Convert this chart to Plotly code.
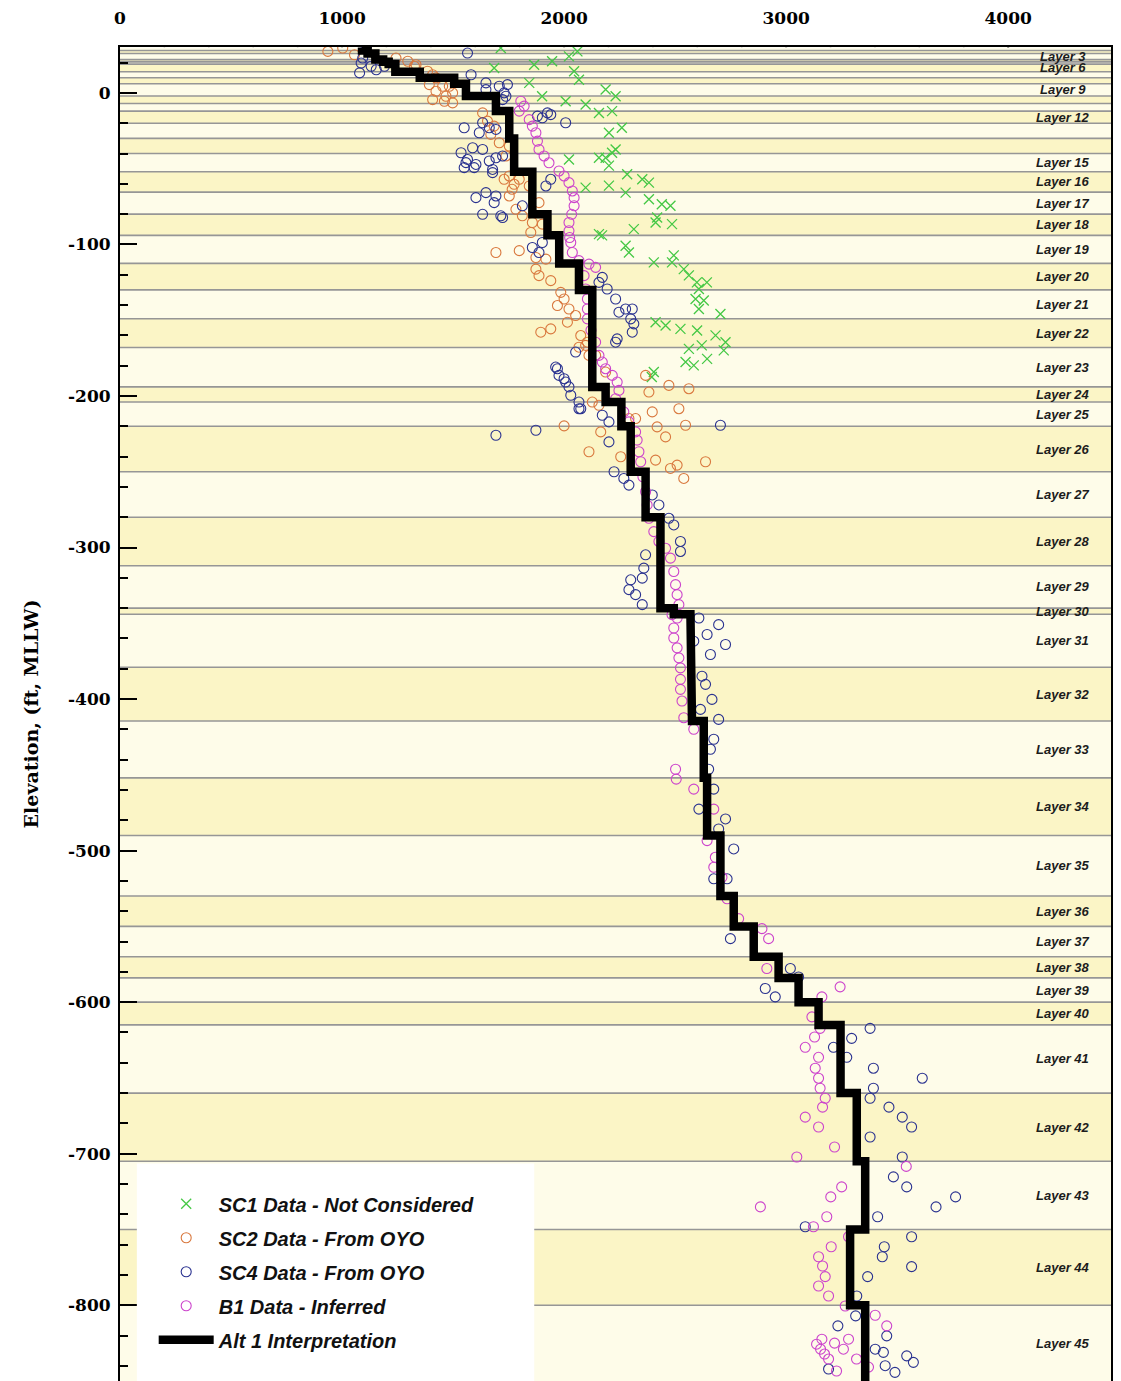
import plotly.graph_objects as go

# ---------------- data ----------------
# layer boundaries (elevation, ft) from top of layer 1 to bottom of layer 45
layer_bounds = [30, 28, 26, 22, 20.5, 19, 14, 10, 6, -2, -7, -12, -20, -30, -40,
                -52, -65.5, -80, -94, -112.5, -130, -149, -168, -194, -204, -220,
                -250, -280, -312, -340, -344, -379, -414.5, -452, -490, -530, -550,
                -570, -584, -600, -615, -660, -705, -750, -800, -850]
# Alt 1 interpretation: shear wave velocity per layer (ft/s)
alt1_vs = [1090, 1115, 1150, 1185, 1210, 1240, 1350, 1505, 1558, 1693, 1693, 1753,
           1753, 1775, 1775, 1857, 1857, 1925, 1978, 2067, 2127, 2127, 2127, 2187,
           2258, 2300, 2367, 2434, 2434, 2494, 2569, 2576, 2629, 2644, 2704, 2764,
           2854, 2966, 3056, 3146, 3245, 3318, 3356, 3288, 3356]
labeled_layers = [3, 6, 9, 12] + [15, 16, 17, 18, 19, 20, 21, 22, 23, 24, 25, 26, 27,
                                  28, 29, 30, 31, 32, 33, 34, 35, 36, 37, 38, 39, 40,
                                  41, 42, 43, 44, 45]

sc1_pts = [(1715, 29.6), (1685, 16.4), (1865, 18.6), (1946, 20.9), (2022, 24.1),
           (2060, 27.4), (2045, 14.3), (2067, 8.7), (1843, 6.6), (1901, -2.2),
           (2007, -5.5), (2097, -7.7), (2187, 2.2), (2232, -2.2), (2157, -13.2),
           (2216, -12.0), (2260, -23.0), (2202, -26.3), (2187, -42.8), (2232, -37.3),
           (2022, -43.9), (2097, -62.5), (2202, -61.2), (2277, -65.8), (2171, -94.0),
           (2216, -39.5), (2202, -48.0), (2157, -42.8), (2284, -53.7), (2352, -57.0),
           (2382, -59.2), (2382, -70.2), (2440, -73.5), (2479, -74.5), (2419, -82.2),
           (2412, -85.5), (2486, -86.6), (2314, -89.9), (2157, -93.2), (2277, -100.9),
           (2292, -105.3), (2404, -111.8), (2486, -111.8), (2494, -107.2), (2539, -116.3),
           (2562, -120.4), (2598, -125.0), (2607, -129.4), (2643, -125.0), (2592, -136.0),
           (2629, -137.0), (2607, -142.6), (2704, -145.9), (2412, -151.3), (2457, -153.5),
           (2524, -155.7), (2599, -156.8), (2682, -160.0), (2727, -164.5), (2562, -168.9),
           (2620, -166.6), (2719, -169.9), (2644, -175.5), (2547, -177.6), (2584, -179.8),
           (2404, -184.2), (2395, -187.5)]

sc2_pts = [(936, 27.4), (1003, 29.6), (1056, 25.2), (1243, 23.0), (1296, 20.9),
           (1333, 18.6), (1385, 14.3), (1408, 12.0), (1423, 1.1), (1468, -2.2),
           (1498, -6.6), (1408, -4.4), (1453, 4.4), (1326, 17.6), (1423, 9.9),
           (1393, 5.5), (1483, 4.4), (1461, -5.5), (1498, 0.0), (1633, -13.2),
           (1655, -18.6), (1685, -21.9), (1670, -27.4), (1708, -32.9), (1738, -41.6),
           (1753, -54.8), (1798, -57.0), (1766, -63.6), (1843, -61.4), (1887, -72.4),
           (1812, -81.1), (1857, -85.5), (1850, -92.1), (1902, -86.6), (1753, -35.1),
           (1730, -57.0), (1775, -60.3), (1753, -68.0), (1783, -76.8), (1693, -105.3),
           (1798, -104.1), (1873, -108.6), (1918, -109.7), (1873, -116.3), (1887, -120.6),
           (1940, -123.9), (1985, -131.6), (2000, -136.0), (1970, -140.3), (2022, -142.6),
           (2052, -146.9), (2015, -151.3), (1940, -155.7), (1895, -157.9), (2075, -160.1),
           (2097, -166.6), (2112, -173.2), (2127, -204.0), (2142, -173.2), (2187, -184.2),
           (2367, -186.4), (2472, -193.0), (2562, -195.2), (2382, -197.4), (2517, -208.4),
           (2397, -210.5), (2322, -214.9), (2157, -206.1), (2165, -223.7), (2292, -214.9),
           (2457, -227.0), (2547, -219.3), (2067, -167.8), (2105, -164.5), (2419, -220.4),
           (2112, -236.8), (2255, -240.1), (2412, -242.3), (2479, -247.8), (2509, -245.6),
           (2539, -254.4), (2637, -243.4), (2000, -219.7)]

sc4_pts = [(1109, 30.0), (1093, 23.0), (1131, 17.6), (1079, 13.2), (1154, 15.3),
           (1191, 17.6), (1565, 26.3), (1581, 12.0), (1648, 6.6), (1745, 5.5),
           (1730, 0.0), (1648, 2.2), (1723, -4.4), (1550, -23.0), (1633, -19.7),
           (1693, -24.1), (1880, -15.3), (1925, -13.2), (2007, -19.7), (1086, 19.7),
           (1708, 4.4), (1738, -2.2), (1940, -14.3), (1902, -16.4), (1618, -26.3),
           (1663, -23.0), (1536, -39.5), (1588, -36.2), (1633, -37.3), (1565, -43.9),
           (1550, -49.3), (1603, -47.2), (1663, -44.9), (1678, -50.5), (1693, -42.8),
           (1723, -41.6), (1603, -69.1), (1648, -65.8), (1693, -68.0), (1685, -72.4),
           (1633, -80.1), (1715, -81.1), (1812, -74.5), (1940, -57.0), (1918, -61.4),
           (1558, -46.0), (1595, -49.3), (1678, -52.6), (1723, -82.2), (1857, -102.0),
           (1970, -182.0), (2000, -188.6), (2022, -194.0), (2067, -204.0), (2067, -208.4),
           (1873, -222.6), (1693, -225.9), (1902, -98.7), (1887, -105.3), (2172, -121.7),
           (2194, -129.4), (2157, -125.0), (2232, -136.0), (2247, -144.7), (2277, -142.6),
           (2307, -142.6), (2314, -152.4), (2307, -157.9), (2232, -164.5), (1962, -180.9),
           (1977, -186.4), (2007, -190.8), (2030, -199.5), (2704, -219.3), (2172, -212.7),
           (2202, -217.1), (2300, -149.1), (2239, -162.3), (2052, -171.0), (2075, -208.4),
           (2202, -230.3), (2225, -250.0), (2269, -254.4), (2292, -258.8), (2397, -265.3),
           (2427, -271.9), (2472, -280.7), (2494, -285.1), (2524, -296.0), (2524, -302.6),
           (2367, -304.8), (2359, -313.6), (2352, -320.2), (2300, -321.3), (2292, -327.8),
           (2322, -331.1), (2352, -337.7), (2696, -350.9), (2607, -346.5), (2644, -357.4),
           (2727, -364.0), (2659, -370.6), (2584, -361.8), (2621, -384.9), (2637, -390.3),
           (2666, -400.2), (2614, -406.8), (2696, -413.4), (2674, -426.5), (2659, -433.1),
           (2651, -446.3), (2674, -459.4), (2607, -472.6), (2727, -479.1), (2696, -485.7),
           (2764, -498.9), (2674, -518.6), (2734, -518.6), (2749, -558.1), (2906, -591.0),
           (2951, -596.5), (3019, -577.8), (3056, -583.4), (3378, -617.3), (3295, -623.9),
           (3213, -629.8), (3273, -636.4), (3393, -643.6), (3613, -650.2), (3393, -656.8),
           (3378, -663.4), (3463, -669.3), (3523, -675.9), (3565, -682.4), (3378, -689.0),
           (3523, -702.2), (3483, -715.3), (3543, -721.9), (3763, -728.5), (3675, -735.1),
           (3412, -741.6), (3086, -748.2), (3565, -754.8), (3442, -761.4), (3433, -768.0),
           (3565, -774.5), (3367, -781.1), (3318, -793.9), (3313, -807.0), (3233, -813.6),
           (3453, -820.2), (3401, -829.0), (3438, -831.1), (3543, -833.4), (3573, -837.7),
           (3191, -842.1), (3490, -844.3), (3446, -839.9)]

b1_pts = [(1805, -5.5), (1820, -8.7), (1798, -12.0), (1843, -17.6), (1857, -21.9),
          (1873, -26.3), (1880, -31.8), (1887, -37.3), (1910, -41.6), (1932, -46.1),
          (1977, -51.5), (2000, -54.8), (2022, -59.2), (2037, -64.7), (2045, -69.1),
          (2045, -74.5), (2034, -80.1), (2022, -85.5), (2022, -91.0), (2025, -95.4),
          (2030, -98.7), (2037, -105.3), (2067, -110.7), (2112, -113.0), (2142, -115.1),
          (2090, -120.6), (2097, -129.4), (2105, -136.0), (2105, -142.6), (2105, -149.1),
          (2121, -156.6), (2142, -164.5), (2157, -173.2), (2172, -177.6), (2187, -182.0),
          (2217, -186.4), (2239, -190.8), (2247, -196.3), (2232, -201.8), (2269, -210.5),
          (2292, -217.1), (2322, -223.7), (2329, -229.1), (2337, -236.8), (2345, -243.4),
          (2355, -253.3), (2367, -263.2), (2374, -271.9), (2382, -280.7), (2404, -289.5),
          (2427, -296.0), (2457, -300.5), (2479, -307.0), (2494, -315.8), (2502, -324.5),
          (2509, -331.1), (2517, -337.7), (2509, -346.5), (2486, -344.3), (2494, -353.1),
          (2494, -359.7), (2509, -366.2), (2517, -372.8), (2524, -379.4), (2524, -387.0),
          (2524, -393.6), (2531, -401.3), (2539, -412.3), (2584, -419.9), (2502, -446.3),
          (2505, -452.8), (2584, -459.4), (2674, -472.6), (2644, -493.4), (2681, -504.4),
          (2674, -511.0), (2711, -517.6), (2734, -531.8), (2786, -544.9), (2891, -551.5),
          (2921, -558.1), (2913, -577.8), (3243, -589.9), (3161, -596.5), (3116, -609.7),
          (3153, -617.3), (3128, -623.0), (3086, -629.8), (3146, -636.4), (3131, -643.6),
          (3146, -650.2), (3153, -656.8), (3176, -663.4), (3164, -669.3), (3086, -675.9),
          (3146, -682.4), (3218, -695.6), (3048, -702.2), (3541, -708.4), (3250, -721.9),
          (3201, -728.5), (2884, -735.1), (3183, -741.6), (3123, -748.2), (3281, -754.8),
          (3203, -761.4), (3146, -768.0), (3164, -774.1), (3176, -781.1), (3146, -787.3),
          (3191, -793.9), (3266, -800.5), (3401, -806.6), (3453, -813.6), (3161, -822.4),
          (3137, -825.7), (3155, -829.0), (3173, -832.2), (3191, -835.5), (3218, -825.0),
          (3258, -829.0), (3281, -822.4), (3317, -835.5), (3371, -840.8), (3227, -843.4)]

v_tick_vals = [0, 1000, 2000, 3000, 4000]
v_tick_text = ["0", "1000", "2000", "3000", "4000"]
elev_tick_vals = [0, -100, -200, -300, -400, -500, -600, -700, -800]
elev_tick_text = ["0", "-100", "-200", "-300", "-400", "-500", "-600", "-700", "-800"]

series_names = ["SC1 Data - Not Considered", "SC2 Data - From OYO",
                "SC4 Data - From OYO", "B1 Data - Inferred", "Alt 1 Interpretation"]

# ---------------- styling ----------------
V_MAX = 4463          # right edge incl. layer-label column
GRID_MAX = 4000
LABEL_X = 4245        # centre of the layer-label column
Y_RANGE = [-850, 30.3]
YELLOW = "#fbf5c6"
CREAM = "#fefce9"
SERIF = "DejaVu Serif"
SANS = "Liberation Sans"

fig = go.Figure()

shapes = []
n_layers = len(alt1_vs)
for i in range(n_layers):
    layer_no = i + 1
    shapes.append(dict(type="rect", xref="x", yref="y", x0=0, x1=V_MAX,
                       y0=layer_bounds[i + 1], y1=layer_bounds[i],
                       fillcolor=YELLOW if layer_no % 2 == 0 else CREAM,
                       line=dict(width=0), layer="below"))
for v in range(200, GRID_MAX, 200):
    major = v % 1000 == 0
    shapes.append(dict(type="line", xref="x", yref="paper", x0=v, x1=v, y0=0, y1=1,
                       line=dict(color="#9a9a9a" if major else "#c4c4c4",
                                 width=2 if major else 1.5), layer="below"))
for b in layer_bounds[1:-1]:
    shapes.append(dict(type="line", xref="x", yref="y", x0=0, x1=V_MAX, y0=b, y1=b,
                       line=dict(color="#969696", width=1.6), layer="below"))
shapes.append(dict(type="line", xref="x", yref="paper", x0=GRID_MAX, x1=GRID_MAX,
                   y0=0, y1=1, line=dict(color="#3a3a3a", width=2), layer="below"))
# white legend panel
shapes.append(dict(type="rect", xref="paper", yref="paper", x0=0.017, x1=0.418,
                   y0=0, y1=0.163, fillcolor="white", line=dict(width=0),
                   layer="above"))

def split(pts):
    return [p[0] for p in pts], [p[1] for p in pts]

x1, y1 = split(sc1_pts)
fig.add_trace(go.Scatter(x=x1, y=y1, mode="markers", name=series_names[0],
                         legendgroup="g1",
                         marker=dict(symbol="x-thin", size=10, color="#45c845",
                                     line=dict(color="#45c845", width=1.3))))
x2, y2 = split(sc2_pts)
fig.add_trace(go.Scatter(x=x2, y=y2, mode="markers", name=series_names[1],
                         legendgroup="g2",
                         marker=dict(symbol="circle-open", size=10, color="#d9783e",
                                     line=dict(width=1.1))))
x4, y4 = split(sc4_pts)
fig.add_trace(go.Scatter(x=x4, y=y4, mode="markers", name=series_names[2],
                         legendgroup="g3",
                         marker=dict(symbol="circle-open", size=10, color="#2a3290",
                                     line=dict(width=1.1))))
xb, yb = split(b1_pts)
fig.add_trace(go.Scatter(x=xb, y=yb, mode="markers", name=series_names[3],
                         legendgroup="g4",
                         marker=dict(symbol="circle-open", size=10, color="#cc44cc",
                                     line=dict(width=1.1))))

step_x, step_y = [], []
for i, v in enumerate(alt1_vs):
    step_x += [v, v]
    step_y += [layer_bounds[i], layer_bounds[i + 1]]
fig.add_trace(go.Scatter(x=step_x, y=step_y, mode="lines", name=series_names[4],
                         legendgroup="g5",
                         line=dict(color="black", width=8.5, shape="linear")))

annotations = []
for n in labeled_layers:
    yc = (layer_bounds[n - 1] + layer_bounds[n]) / 2
    annotations.append(dict(x=LABEL_X, y=yc, xref="x", yref="y",
                            text=f"Layer {n}", showarrow=False,
                            font=dict(family=SANS, size=13, color="#1c1c1c",
                                      weight="bold", style="italic")))

# page body has an 8px margin: size the figure so the plot area lands where intended
fig.update_layout(
    width=1105, height=1373,
    margin=dict(l=112, r=0, t=35, b=0),
    paper_bgcolor="white", plot_bgcolor="white",
    shapes=shapes, annotations=annotations,
    showlegend=True,
    legend=dict(x=0.034, y=0.1475, xanchor="left", yanchor="top",
                bgcolor="rgba(0,0,0,0)", borderwidth=0,
                font=dict(family=SANS, size=20, color="#111", weight="bold",
                          style="italic"),
                tracegroupgap=5, traceorder="grouped", itemwidth=55),
    xaxis=dict(range=[0, V_MAX], side="top", tickmode="array",
               tickvals=v_tick_vals, ticktext=v_tick_text,
               showgrid=False, zeroline=False, ticks="",
               showline=True, mirror=False, linecolor="black", linewidth=2,
               tickfont=dict(family=SERIF, size=17, color="black", weight="bold"),
               ticklabelstandoff=14),
    yaxis=dict(range=Y_RANGE, tickmode="array", tickvals=elev_tick_vals,
               ticktext=elev_tick_text, showgrid=False, zeroline=False,
               ticks="inside", ticklen=17, tickwidth=2, tickcolor="black",
               showline=True, mirror=True, linecolor="black", linewidth=2,
               tickfont=dict(family=SERIF, size=17, color="black", weight="bold"),
               ticklabelstandoff=4,
               minor=dict(dtick=20, tick0=0, ticks="inside", ticklen=8,
                          tickwidth=1.5, tickcolor="black", showgrid=False),
               title=dict(text="Elevation, (ft, MLLW)", standoff=24,
                          font=dict(family=SERIF, size=19, color="black",
                                    weight="bold"))),
)

fig.write_html("out.html")
